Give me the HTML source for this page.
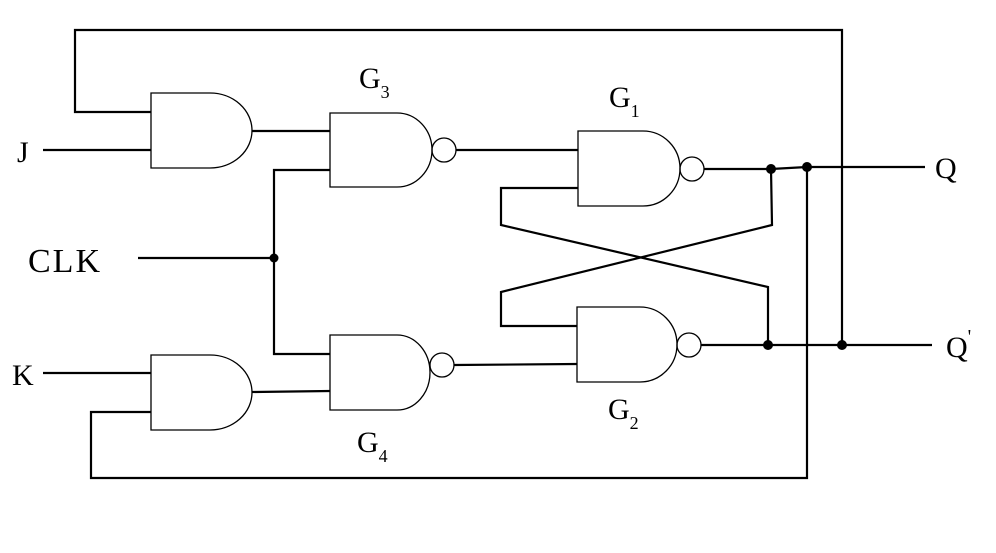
<!DOCTYPE html>
<html><head><style>body{margin:0;background:#fff}svg{display:block}text{font-family:"Liberation Serif",serif;fill:#000}</style></head><body>
<svg width="996" height="553" viewBox="0 0 996 553" xmlns="http://www.w3.org/2000/svg">
<g fill="none" stroke="#000" stroke-width="2.2">
<path stroke-width="1.3" d="M151 93 H210 A42 37.5 0 0 1 210 168 H151 Z"/>
<path stroke-width="1.3" d="M151 355 H210 A42 37.5 0 0 1 210 430 H151 Z"/>
<path stroke-width="1.3" d="M330 113 H397 A35 37 0 0 1 397 187 H330 Z"/>
<path stroke-width="1.3" d="M330 335 H397 A33 37.5 0 0 1 397 410 H330 Z"/>
<path stroke-width="1.3" d="M578 131 H643 A37 37.5 0 0 1 643 206 H578 Z"/>
<path stroke-width="1.3" d="M577 307 H640 A37 37.5 0 0 1 640 382 H577 Z"/>
<circle stroke-width="1.3" cx="444" cy="150" r="12"/>
<circle stroke-width="1.3" cx="442" cy="365" r="12"/>
<circle stroke-width="1.3" cx="692" cy="169" r="12"/>
<circle stroke-width="1.3" cx="689" cy="345" r="12"/>
<path d="M151 112 H75 V30 H842 V345"/>
<path d="M43 150 H151"/>
<path d="M252 131 H330"/>
<path d="M138 258 H274"/>
<path d="M330 170 H274 V354 H330"/>
<path d="M43 373 H151"/>
<path d="M252 392 L330 391"/>
<path d="M151 412 H91 V478 H807 V167"/>
<path d="M456 150 H578"/>
<path d="M454 365 L577 364"/>
<path d="M704 169 H771 L807 167 H925"/>
<path d="M578 188 H501 V225 L768 287 V345"/>
<path d="M771 169 L772 225 L501 292 V326 H577"/>
<path d="M701 345 H932"/>
</g>
<g fill="#000">
<circle cx="274" cy="258" r="4.5"/>
<circle cx="771" cy="169" r="5"/>
<circle cx="807" cy="167" r="5"/>
<circle cx="768" cy="345" r="5"/>
<circle cx="842" cy="345" r="5"/>
</g>
<text x="17" y="162" font-size="30">J</text>
<text x="12" y="385" font-size="30">K</text>
<text x="28" y="272" font-size="34" letter-spacing="2">CLK</text>
<text x="359" y="88" font-size="30">G<tspan font-size="18" dy="10">3</tspan></text>
<text x="609" y="107" font-size="30">G<tspan font-size="18" dy="10">1</tspan></text>
<text x="608" y="419" font-size="30">G<tspan font-size="18" dy="10">2</tspan></text>
<text x="357" y="452" font-size="30">G<tspan font-size="18" dy="10">4</tspan></text>
<text x="935" y="178" font-size="30">Q</text>
<text x="946" y="357" font-size="30">Q<tspan font-size="20" dy="-14">'</tspan></text>
</svg>
</body></html>
